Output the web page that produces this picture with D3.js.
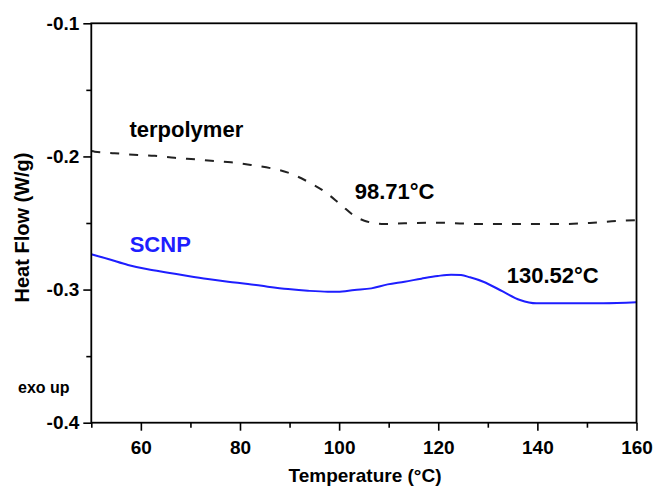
<!DOCTYPE html>
<html><head><meta charset="utf-8">
<script src="https://cdn.jsdelivr.net/npm/d3@7"></script>
<style>body{margin:0;background:#fff}svg{display:block}text{font-family:Arial,"Liberation Sans",sans-serif;font-weight:bold}</style>
</head><body><svg id="c" width="654" height="491"></svg>
<script>
const xTicks=[60,80,100,120,140,160];
const yTicks=[-0.1,-0.2,-0.3,-0.4];
const terpT=[50,50.7,54.7,59.4,62.8,66.8,70.9,74.2,78.2,82.2,86.3,89.7,93.7,97.1,100.4,103.1,105.1,109.2,113.2,119.9,128.7,136.5,144.5,150.6,156,160];
const terpV=[-0.1960,-0.1964,-0.1976,-0.1989,-0.1995,-0.2010,-0.2022,-0.2032,-0.2044,-0.2064,-0.2089,-0.2122,-0.2190,-0.2265,-0.2365,-0.2447,-0.2483,-0.2508,-0.2502,-0.2498,-0.2508,-0.2508,-0.2508,-0.2500,-0.2485,-0.2478];
const scnpT=[50,53.4,57.4,61.4,65.5,69.5,73.5,77.6,81.6,85.6,89.7,93.7,97.7,99.7,103.1,106.5,109.8,113.2,116.6,119.9,122.6,124.6,126.4,129.1,133.1,136.5,139.8,146.6,153.3,160];
const scnpV=[-0.2735,-0.2770,-0.2815,-0.2848,-0.2873,-0.2898,-0.2921,-0.2941,-0.2958,-0.2978,-0.2996,-0.3009,-0.3016,-0.3016,-0.3003,-0.2991,-0.2961,-0.2941,-0.2918,-0.2898,-0.2888,-0.2891,-0.2908,-0.2941,-0.3016,-0.3078,-0.3103,-0.3103,-0.3103,-0.3096];

const svg=d3.select("#c");
const L=91.3,R=636.5,T=23.3,B=422.7;
const x=d3.scaleLinear().domain([50,160]).range([L,R]);
const y=d3.scaleLinear().domain([-0.4,-0.1]).range([B,T]);
const FONT="Arial, Liberation Sans, sans-serif";
const fmtY=d=>d3.format(".1f")(d).replace("\u2212","-");

function styleTicks(g){g.select(".domain").remove();g.selectAll("line").attr("stroke","#000").attr("stroke-width",1.6);}
function styleText(g,fs){g.selectAll("text").attr("font-size",fs).attr("fill","#000").attr("font-family",FONT).attr("font-weight","bold");}

svg.append("g").attr("transform",`translate(0,${B})`)
  .call(d3.axisBottom(x).tickValues([50,70,90,110,130,150]).tickSize(5).tickFormat("")).call(styleTicks);
const gx=svg.append("g").attr("transform",`translate(0,${B})`)
  .call(d3.axisBottom(x).tickValues(xTicks).tickSize(8).tickPadding(10).tickFormat(d3.format("d")));
styleTicks(gx);styleText(gx,19);

svg.append("g").attr("transform",`translate(${L},0)`)
  .call(d3.axisLeft(y).tickValues([-0.15,-0.25,-0.35]).tickSize(5).tickFormat("")).call(styleTicks);
const gy=svg.append("g").attr("transform",`translate(${L},0)`)
  .call(d3.axisLeft(y).tickValues(yTicks).tickSize(8).tickPadding(4).tickFormat(fmtY));
styleTicks(gy);styleText(gy,19);

const line=d3.line().x(d=>x(d[0])).y(d=>y(d[1])).curve(d3.curveMonotoneX);
svg.append("path").datum(terpT.map((t,i)=>[t,terpV[i]])).attr("d",line)
  .attr("fill","none").attr("stroke","#222").attr("stroke-width",2).attr("stroke-dasharray","9,10");
svg.append("path").datum(scnpT.map((t,i)=>[t,scnpV[i]])).attr("d",line)
  .attr("fill","none").attr("stroke","#1e1eff").attr("stroke-width",2);

svg.append("rect").attr("x",L).attr("y",T).attr("width",R-L).attr("height",B-T)
  .attr("fill","none").attr("stroke","#000").attr("stroke-width",1.8);

svg.append("text").attr("x",129.5).attr("y",137).attr("font-size",22).text("terpolymer");
svg.append("text").attr("x",354.7).attr("y",199).attr("font-size",22).text("98.71°C");
svg.append("text").attr("x",129.7).attr("y",252).attr("font-size",22).attr("fill","#1e1eff").text("SCNP");
svg.append("text").attr("x",506.7).attr("y",282.5).attr("font-size",22).text("130.52°C");
svg.append("text").attr("x",18).attr("y",393).attr("font-size",16).text("exo up");
svg.append("text").attr("transform","translate(29,227.5) rotate(-90)").attr("text-anchor","middle").attr("font-size",20).text("Heat Flow (W/g)");
svg.append("text").attr("x",365).attr("y",482).attr("text-anchor","middle").attr("font-size",19).text("Temperature (°C)");
</script></body></html>
